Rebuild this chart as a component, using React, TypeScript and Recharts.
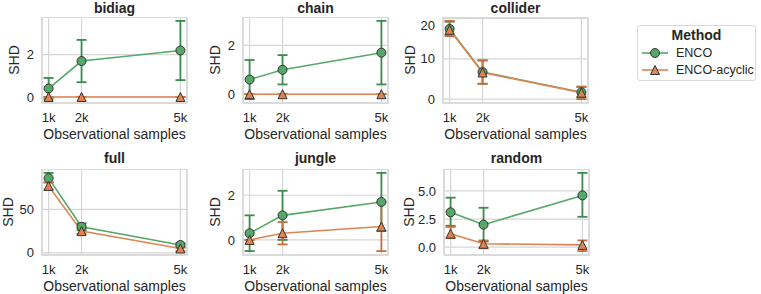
import { LineChart, Line, XAxis, YAxis, CartesianGrid, ErrorBar, ReferenceArea } from 'recharts';

// observational sample sizes (thousands)
const samples = [1, 2, 5];
const sampleTicks = [1, 2, 5];

// bidiag
const bidiagEnco = [0.4, 1.7, 2.2];
const bidiagEncoLow = [-0.1, 0.7, 0.8];
const bidiagEncoHigh = [0.9, 2.7, 3.6];
const bidiagAcyc = [0, 0, 0];
const bidiagAcycLow = [0, 0, 0];
const bidiagAcycHigh = [0, 0, 0];

// chain
const chainEnco = [0.6, 1.0, 1.7];
const chainEncoLow = [-0.2, 0.4, 0.4];
const chainEncoHigh = [1.4, 1.6, 3.0];
const chainAcyc = [0, 0, 0];
const chainAcycLow = [0, 0, 0];
const chainAcycHigh = [0, 0, 0];

// collider
const colliderEnco = [17.4, 6.7, 1.7];
const colliderEncoLow = [15.9, 3.8, 0.4];
const colliderEncoHigh = [19.2, 9.6, 3.1];
const colliderAcyc = [17.2, 6.6, 1.6];
const colliderAcycLow = [15.6, 3.8, 0.0];
const colliderAcycHigh = [19.4, 9.6, 3.0];

// full
const fullEnco = [86, 30, 9];
const fullEncoLow = [81, 26, 6];
const fullEncoHigh = [92, 34, 11];
const fullAcyc = [77, 25, 5];
const fullAcycLow = [73, 22, 2];
const fullAcycHigh = [81, 28, 7];

// jungle
const jungleEnco = [0.3, 1.1, 1.7];
const jungleEncoLow = [-0.5, 0.0, 0.4];
const jungleEncoHigh = [1.1, 2.2, 3.0];
const jungleAcyc = [0.0, 0.3, 0.6];
const jungleAcycLow = [0.0, -0.2, -0.5];
const jungleAcycHigh = [0.0, 0.8, 1.7];

// random
const randomEnco = [3.1, 2.0, 4.6];
const randomEncoLow = [1.9, 0.5, 2.7];
const randomEncoHigh = [4.4, 3.5, 6.6];
const randomAcyc = [1.2, 0.3, 0.2];
const randomAcycLow = [0.8, -0.1, -0.35];
const randomAcycHigh = [1.8, 0.6, 0.6];

const GREEN = '#55a868';
const GREEN_BAR = '#3d8c4f';
const ORANGE = '#dd8452';
const ORANGE_BAR = '#c96f3c';
const EDGE = '#333333';
const GRID = '#d6d6d6';
const TEXT = '#262626';
const FONT = '"Liberation Sans", Arial, sans-serif';

const FRAME_W = 145;
const FRAME_H = 86;
const Y_AXIS_W = 40;
const X_AXIS_H = 40;

const panels = [
  { title: 'bidiag', left: 42, top: 17, labelX: 14, yTicks: [0, 2], dec: 0,
    enco: bidiagEnco, encoLow: bidiagEncoLow, encoHigh: bidiagEncoHigh,
    acyc: bidiagAcyc, acycLow: bidiagAcycLow, acycHigh: bidiagAcycHigh },
  { title: 'chain', left: 243, top: 17, labelX: 215, yTicks: [0, 2], dec: 0,
    enco: chainEnco, encoLow: chainEncoLow, encoHigh: chainEncoHigh,
    acyc: chainAcyc, acycLow: chainAcycLow, acycHigh: chainAcycHigh },
  { title: 'collider', left: 443, top: 17, labelX: 410, yTicks: [0, 10, 20], dec: 0,
    enco: colliderEnco, encoLow: colliderEncoLow, encoHigh: colliderEncoHigh,
    acyc: colliderAcyc, acycLow: colliderAcycLow, acycHigh: colliderAcycHigh },
  { title: 'full', left: 42, top: 169, labelX: 8, yTicks: [0, 50], dec: 0,
    enco: fullEnco, encoLow: fullEncoLow, encoHigh: fullEncoHigh,
    acyc: fullAcyc, acycLow: fullAcycLow, acycHigh: fullAcycHigh },
  { title: 'jungle', left: 243, top: 169, labelX: 215, yTicks: [0, 2], dec: 0,
    enco: jungleEnco, encoLow: jungleEncoLow, encoHigh: jungleEncoHigh,
    acyc: jungleAcyc, acycLow: jungleAcycLow, acycHigh: jungleAcycHigh },
  { title: 'random', left: 444, top: 169, labelX: 409, yTicks: [0, 2.5, 5], dec: 1,
    enco: randomEnco, encoLow: randomEncoLow, encoHigh: randomEncoHigh,
    acyc: randomAcyc, acycLow: randomAcycLow, acycHigh: randomAcycHigh },
];

type Panel = (typeof panels)[number];

const Circle = (props: any) => {
  const { cx, cy, index } = props;
  if (cx == null || cy == null) return <g key={`c-${index}`} />;
  return <circle key={`c-${index}`} cx={cx} cy={cy} r={4.5} fill={GREEN} stroke={EDGE} strokeWidth={1} />;
};

const Triangle = (props: any) => {
  const { cx, cy, index } = props;
  if (cx == null || cy == null) return <g key={`t-${index}`} />;
  const s = 4.5;
  return (
    <polygon
      key={`t-${index}`}
      points={`${cx},${cy - s} ${cx - s},${cy + s} ${cx + s},${cy + s}`}
      fill={ORANGE}
      stroke={EDGE}
      strokeWidth={1}
    />
  );
};

function SubPlot({ p }: { p: Panel }) {
  const rows = samples.map((s, i) => ({
    s,
    enco: p.enco[i],
    encoErr: [p.enco[i] - p.encoLow[i], p.encoHigh[i] - p.enco[i]],
    acyc: p.acyc[i],
    acycErr: [p.acyc[i] - p.acycLow[i], p.acycHigh[i] - p.acyc[i]],
  }));
  // seaborn-style 5% margins around data incl. error bars
  const all = [...p.encoLow, ...p.encoHigh, ...p.acycLow, ...p.acycHigh, ...p.enco, ...p.acyc];
  const lo = Math.min(...all);
  const hi = Math.max(...all);
  const pad = (hi - lo) * 0.05;
  const yDom: [number, number] = [lo - pad, hi + pad];
  const xDom: [number, number] = [0.8, 5.2];

  return (
    <>
      <div
        style={{
          position: 'absolute',
          left: p.left,
          top: Math.max(0, p.top - 19),
          width: FRAME_W,
          textAlign: 'center',
          fontWeight: 'bold',
          fontSize: 14,
          lineHeight: '16px',
          color: TEXT,
        }}
      >
        {p.title}
      </div>
      <div
        style={{
          position: 'absolute',
          left: p.labelX - 30,
          top: p.top + FRAME_H / 2 - 8,
          width: 60,
          textAlign: 'center',
          fontSize: 14,
          lineHeight: '16px',
          color: TEXT,
          transform: 'rotate(-90deg)',
        }}
      >
        SHD
      </div>
      <div
        style={{
          position: 'absolute',
          left: p.left - 20,
          top: p.top + FRAME_H + 23,
          width: FRAME_W + 40,
          textAlign: 'center',
          fontSize: 14,
          lineHeight: '16px',
          color: TEXT,
        }}
      >
        Observational samples
      </div>
      <div style={{ position: 'absolute', left: p.left - Y_AXIS_W, top: p.top }}>
        <LineChart
          width={FRAME_W + Y_AXIS_W + 5}
          height={FRAME_H + X_AXIS_H}
          data={rows}
          margin={{ top: 0, right: 5, bottom: 0, left: 0 }}
        >
          <CartesianGrid stroke={GRID} strokeWidth={1.2} />
          <ReferenceArea x1={xDom[0]} x2={xDom[1]} y1={yDom[0]} y2={yDom[1]} fill="none" stroke={GRID} strokeWidth={1.4} />
          <XAxis
            dataKey="s"
            type="number"
            domain={xDom}
            ticks={sampleTicks}
            tickFormatter={(v: number) => `${v}k`}
            height={X_AXIS_H}
            axisLine={false}
            tickLine={false}
            tickMargin={4}
            tick={{ fill: TEXT, fontSize: 13, fontFamily: FONT }}
          />
          <YAxis
            type="number"
            domain={yDom}
            ticks={p.yTicks}
            tickFormatter={(v: number) => v.toFixed(p.dec)}
            width={Y_AXIS_W}
            axisLine={false}
            tickLine={false}
            tick={{ fill: TEXT, fontSize: 13, fontFamily: FONT }}
          />
          <Line
            dataKey="enco"
            stroke={GREEN}
            strokeWidth={1.6}
            dot={Circle}
            activeDot={false}
            isAnimationActive={false}
          >
            <ErrorBar dataKey="encoErr" direction="y" width={5} stroke={GREEN_BAR} strokeWidth={1.8} />
          </Line>
          <Line
            dataKey="acyc"
            stroke={ORANGE}
            strokeWidth={1.6}
            dot={Triangle}
            activeDot={false}
            isAnimationActive={false}
          >
            <ErrorBar dataKey="acycErr" direction="y" width={5} stroke={ORANGE_BAR} strokeWidth={1.8} />
          </Line>
        </LineChart>
      </div>
    </>
  );
}

function LegendBox() {
  return (
    <div
      style={{
        position: 'absolute',
        left: 637,
        top: 25,
        width: 117,
        height: 54,
        border: '1px solid #d9d9d9',
        borderRadius: 3,
        background: '#fff',
        color: TEXT,
      }}
    >
      <div style={{ textAlign: 'center', fontWeight: 'bold', fontSize: 14, lineHeight: '16px', marginTop: 1 }}>
        Method
      </div>
      {[
        { label: 'ENCO', color: GREEN, tri: false },
        { label: 'ENCO-acyclic', color: ORANGE, tri: true },
      ].map((e, i) => (
        <div key={e.label} style={{ position: 'absolute', left: 3, top: 19 + i * 17, height: 16, display: 'flex', alignItems: 'center' }}>
          <svg width={28} height={12}>
            <line x1={1} y1={6} x2={27} y2={6} stroke={e.color} strokeWidth={1.6} />
            {e.tri ? (
              <polygon points="14,1.5 9.5,10.5 18.5,10.5" fill={e.color} stroke={EDGE} strokeWidth={1} />
            ) : (
              <circle cx={14} cy={6} r={4.5} fill={e.color} stroke={EDGE} strokeWidth={1} />
            )}
          </svg>
          <span style={{ marginLeft: 7, fontSize: 12.5, lineHeight: '16px' }}>{e.label}</span>
        </div>
      ))}
    </div>
  );
}

export default function App() {
  return (
    <div
      style={{
        position: 'absolute',
        left: 0,
        top: 0,
        width: 761,
        height: 294,
        background: '#fff',
        fontFamily: FONT,
        overflow: 'hidden',
      }}
    >
      {panels.map(p => (
        <SubPlot key={p.title} p={p} />
      ))}
      <LegendBox />
    </div>
  );
}
